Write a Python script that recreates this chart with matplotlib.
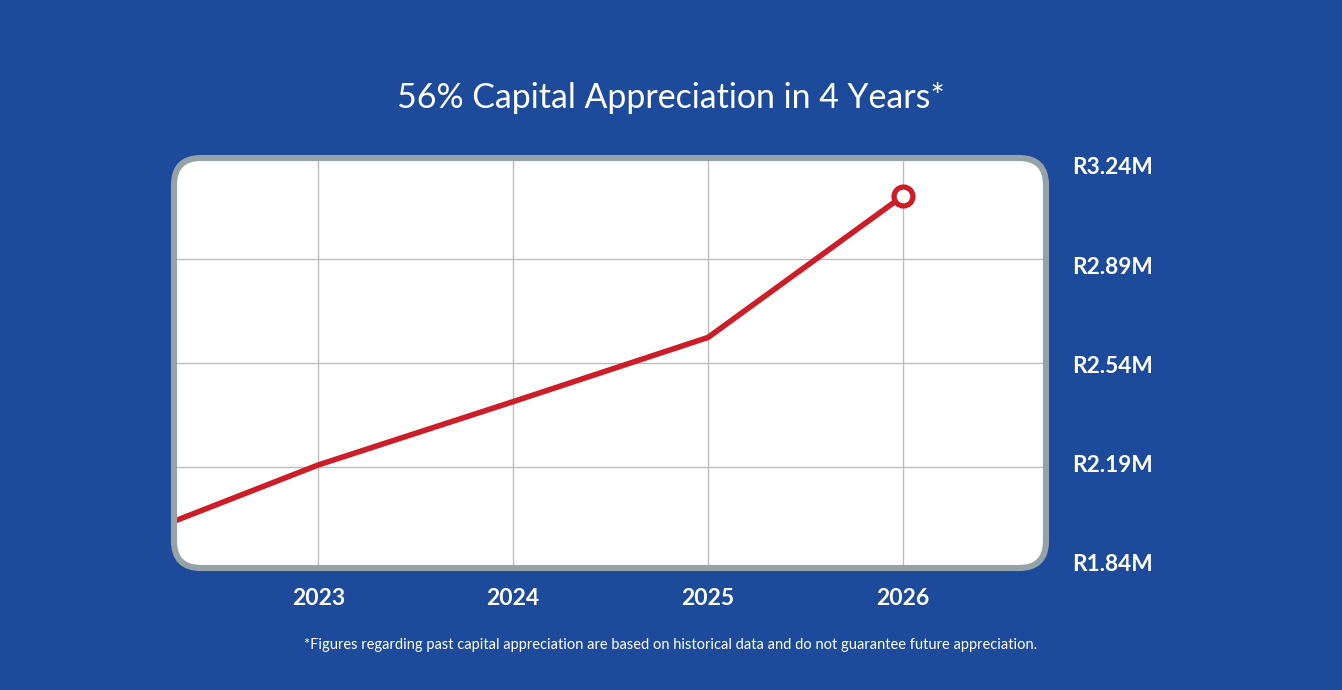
#!/usr/bin/env python3
"""Capital appreciation line chart on a rounded white panel."""

import matplotlib

matplotlib.use("Agg")
import matplotlib.pyplot as plt
from matplotlib.patches import FancyBboxPatch

years = [2022, 2023, 2024, 2025, 2026]
values = [1.941, 2.197, 2.410, 2.626, 3.102]  # R millions
tick_years = [2023, 2024, 2025, 2026]
tick_values = [1.84, 2.19, 2.54, 2.89, 3.24]
tick_labels = ["R1.84M", "R2.19M", "R2.54M", "R2.89M", "R3.24M"]

title = "56% Capital Appreciation in 4 Years*"
footnote = ("*Figures regarding past capital appreciation are based on historical "
            "data and do not guarantee future appreciation.")

BG = "#1D4A9A"
RED = "#CD1D27"
BORDER = "#95A3A8"
GRID = "#BDBDBD"

plt.rcParams["font.family"] = ["Lato", "DejaVu Sans"]

W, H = 1342, 690
fig = plt.figure(figsize=(W / 100, H / 100), dpi=100, facecolor=BG)

# panel area in pixels
x0, x1, y0, y1 = 171, 1049, 155, 571
ax = fig.add_axes([x0 / W, 1 - y1 / H, (x1 - x0) / W, (y1 - y0) / H])
ax.set_facecolor("none")
for s in ax.spines.values():
    s.set_visible(False)

ax.set_xlim(2022.244, 2026.75)
ax.set_ylim(tick_values[0], tick_values[-1])

pw, ph = x1 - x0, y1 - y0
aspect = pw / ph
inset = 3
radius = 27
box_kw = dict(
    boxstyle=f"round,pad=0,rounding_size={radius / pw}",
    mutation_aspect=aspect,
    transform=ax.transAxes,
)
bx, by = inset / pw, inset / ph
bw, bh = 1 - 2 * bx, 1 - 2 * by
panel = FancyBboxPatch((bx, by), bw, bh, facecolor="white", edgecolor="none",
                       zorder=0, **box_kw)
ax.add_patch(panel)
frame = FancyBboxPatch((bx, by), bw, bh, facecolor="none", edgecolor=BORDER,
                       linewidth=4.4, zorder=10, clip_on=False, **box_kw)
ax.add_patch(frame)

ax.set_xticks(tick_years)
ax.set_xticklabels([str(y) for y in tick_years])
ax.set_yticks(tick_values)
ax.tick_params(axis="y", left=False, labelleft=False)
ax.tick_params(axis="x", length=0, pad=12, labelsize=16.5, labelcolor="white")
for lab in ax.get_xticklabels():
    lab.set_fontweight("bold")
ax.grid(True, color=GRID, linewidth=1.0, zorder=1)
ax.set_axisbelow(True)
for gl in ax.get_xgridlines() + ax.get_ygridlines():
    gl.set_clip_path(panel)

line, = ax.plot(years, values, color=RED, linewidth=4.0, zorder=5,
                solid_joinstyle="miter", solid_capstyle="butt")
line.set_clip_path(panel)
ax.plot(years[-1], values[-1], marker="o", markersize=13.6, markeredgewidth=3.8,
        markerfacecolor="white", markeredgecolor=RED, zorder=6)

# value labels on the right, on their own slightly compressed scale
lab_top, lab_bot = 166, 563
lax = fig.add_axes([x0 / W, 1 - lab_bot / H, (x1 - x0) / W, (lab_bot - lab_top) / H])
lax.set_facecolor("none")
lax.patch.set_visible(False)
for s in lax.spines.values():
    s.set_visible(False)
lax.set_xticks([])
lax.set_ylim(tick_values[0], tick_values[-1])
lax.yaxis.tick_right()
lax.set_yticks(tick_values)
lax.set_yticklabels(tick_labels)
lax.tick_params(axis="y", length=0, pad=17, labelsize=16.3, labelcolor="white")
for lab in lax.get_yticklabels():
    lab.set_fontweight("bold")

fig.text(0.5, 1 - 98 / H, title, ha="center", va="center", color="white",
         fontsize=24.4)
fig.text(0.5, 1 - 645 / H, footnote, ha="center", va="center", color="white",
         fontsize=10.5)

fig.savefig("out.png", dpi=100, facecolor=BG)
